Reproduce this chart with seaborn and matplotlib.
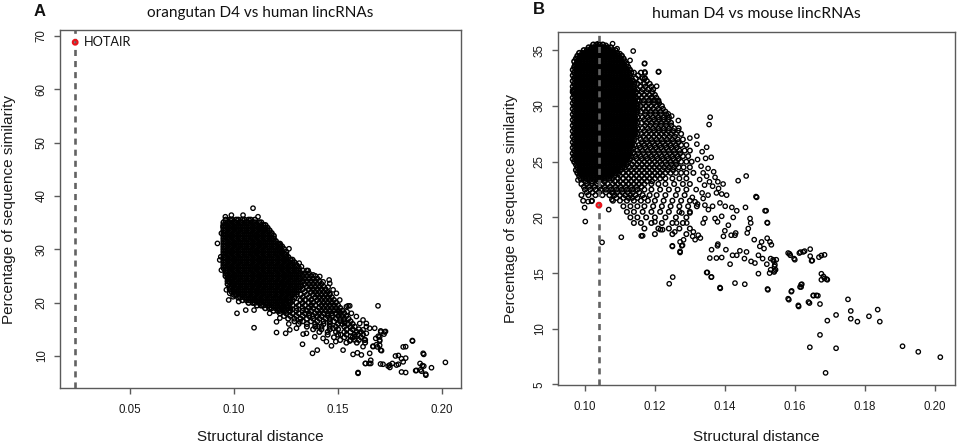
import matplotlib
matplotlib.use("Agg")
import matplotlib.pyplot as plt
import numpy as np
import pandas as pd
import seaborn as sns

# ---------------------------------------------------------------- data
# Panel A: orangutan D4 vs human lincRNAs
a_title = "orangutan D4 vs human lincRNAs"
a_hotair_x = [0.0236]
a_hotair_y = [68.8]
a_xticks = [0.05, 0.10, 0.15, 0.20]
a_xticklabels = ["0.05", "0.10", "0.15", "0.20"]
a_yticks = [10, 20, 30, 40, 50, 60, 70]
a_yticklabels = ["10", "20", "30", "40", "50", "60", "70"]

# dense core of panel A, read row by row (x in units of 0.001)
a_core_y = [35.5, 35.0, 34.5, 34.0, 33.5, 33.0, 32.5, 32.0, 31.5, 31.0, 30.5, 30.0,
            29.5, 29.0, 28.5, 28.0, 27.5, 27.0, 26.5, 26.0, 25.5, 25.0, 24.5, 24.0,
            23.5, 23.0, 22.5, 22.0, 21.5, 21.0, 20.5, 20.0, 19.5, 19.0, 18.5]
a_core_x = [
    [96, 98, 99, 101, 102, 104, 105, 107, 108, 110],
    [95, 97, 98, 100, 101, 103, 104, 106, 107, 109, 110, 112, 113],
    [95, 96, 98, 99, 101, 102, 104, 105, 107, 108, 110, 111, 113, 114, 115],
    [95, 97, 98, 100, 101, 103, 104, 106, 107, 109, 110, 112, 113, 115, 116],
    [95, 96, 98, 99, 101, 102, 104, 105, 107, 108, 110, 111, 113, 114, 116, 117],
    [95, 97, 98, 100, 101, 103, 104, 106, 107, 109, 110, 112, 113, 115, 116, 118],
    [95, 96, 98, 99, 101, 102, 104, 105, 107, 108, 110, 111, 113, 114, 116, 117, 119],
    [95, 97, 98, 100, 101, 103, 104, 106, 107, 109, 110, 112, 113, 115, 116, 118, 119],
    [95, 96, 98, 99, 101, 102, 104, 105, 107, 108, 110, 111, 113, 114, 116, 117, 119, 120],
    [95, 97, 98, 100, 101, 103, 104, 106, 107, 109, 110, 112, 113, 115, 116, 118, 119, 121, 122],
    [95, 96, 98, 99, 101, 102, 104, 105, 107, 108, 110, 111, 113, 114, 116, 117, 119, 120, 122, 123],
    [95, 97, 98, 100, 101, 103, 104, 106, 107, 109, 110, 112, 113, 115, 116, 118, 119, 121, 122, 124],
    [95, 96, 98, 99, 101, 102, 104, 105, 107, 108, 110, 111, 113, 114, 116, 117, 119, 120, 122, 123, 125],
    [95, 97, 98, 100, 101, 103, 104, 106, 107, 109, 110, 112, 113, 115, 116, 118, 119, 121, 122, 124, 125],
    [95, 96, 98, 99, 101, 102, 104, 105, 107, 108, 110, 111, 113, 114, 116, 117, 119, 120, 122, 123, 125, 126],
    [95, 97, 98, 100, 101, 103, 104, 106, 107, 109, 110, 112, 113, 115, 116, 118, 119, 121, 122, 124, 125, 127, 128],
    [95, 96, 98, 99, 101, 102, 104, 105, 107, 108, 110, 111, 113, 114, 116, 117, 119, 120, 122, 123, 125, 126, 128, 129],
    [95, 97, 98, 100, 101, 103, 104, 106, 107, 109, 110, 112, 113, 115, 116, 118, 119, 121, 122, 124, 125, 127, 128, 130],
    [95, 96, 98, 99, 101, 102, 104, 105, 107, 108, 110, 111, 113, 114, 116, 117, 119, 120, 122, 123, 125, 126, 128, 129, 131],
    [96, 97, 98, 100, 101, 103, 104, 106, 107, 109, 110, 112, 113, 115, 116, 118, 119, 121, 122, 124, 125, 127, 128, 130, 131],
    [96, 98, 99, 101, 102, 104, 105, 107, 108, 110, 111, 113, 114, 116, 117, 119, 120, 122, 123, 125, 126, 128, 129, 131, 132],
    [96, 97, 98, 100, 101, 103, 104, 106, 107, 109, 110, 112, 113, 115, 116, 118, 119, 121, 122, 124, 125, 127, 128, 130, 131, 133],
    [97, 98, 99, 101, 102, 104, 105, 107, 108, 110, 111, 113, 114, 116, 117, 119, 120, 122, 123, 125, 126, 128, 129, 131, 132],
    [97, 98, 100, 101, 103, 104, 106, 107, 109, 110, 112, 113, 115, 116, 118, 119, 121, 122, 124, 125, 127, 128, 130, 131, 133],
    [97, 99, 100, 102, 103, 105, 106, 108, 109, 111, 112, 114, 115, 117, 118, 120, 121, 123, 124, 126, 127, 129, 130, 132],
    [98, 99, 101, 102, 104, 105, 107, 108, 110, 111, 113, 114, 116, 117, 119, 120, 122, 123, 125, 126, 128, 129, 131, 132],
    [98, 100, 101, 103, 104, 106, 107, 109, 110, 112, 113, 115, 116, 118, 119, 121, 122, 124, 125, 127, 128, 130, 131],
    [99, 100, 102, 103, 105, 106, 108, 109, 111, 112, 114, 115, 117, 118, 120, 121, 123, 124, 126, 127, 129, 130],
    [100, 101, 103, 104, 106, 107, 109, 110, 112, 113, 115, 116, 118, 119, 121, 122, 124, 125, 127, 128, 130],
    [102, 103, 105, 106, 108, 109, 111, 112, 114, 115, 117, 118, 120, 121, 123, 124, 126, 127, 129],
    [104, 106, 107, 109, 110, 112, 113, 115, 116, 118, 119, 121, 122, 124, 125, 127, 128],
    [107, 109, 110, 112, 113, 115, 116, 118, 119, 121, 122, 124, 125, 127],
    [111, 113, 114, 116, 117, 119, 120, 122, 123, 125, 126],
    [115, 117, 118, 120, 121, 123, 124, 126],
    [119, 121, 122, 124, 125],
]

# thinner tail of panel A (x in units of 0.001)
a_tail_y = [26.0, 25.5, 25.0, 24.5, 24.0, 23.5, 23.0, 22.5, 22.0, 21.5, 21.0, 20.5, 20.0,
            19.5, 19.0, 18.5, 18.0, 17.5, 17.0, 16.5, 16.0, 15.5, 15.0, 14.5, 14.0, 13.5,
            13.0, 12.5]
a_tail_x = [
    [133, 135],
    [134, 136],
    [135, 137, 139],
    [134, 136, 138, 140],
    [135, 137, 139, 141],
    [134, 136, 138, 140, 142],
    [135, 137, 139, 141, 143],
    [133, 136, 138, 140, 142, 144],
    [134, 137, 139, 141, 143, 145],
    [132, 135, 138, 140, 142, 144, 146],
    [133, 136, 139, 141, 143, 145, 147],
    [132, 134, 137, 140, 142, 144, 146, 148],
    [130, 133, 136, 138, 141, 143, 145, 147, 149],
    [128, 131, 134, 137, 139, 142, 144, 146, 148, 150],
    [127, 130, 133, 136, 138, 141, 143, 145, 147, 149, 151],
    [127, 130, 133, 135, 137, 140, 142, 144, 146, 148, 150, 152],
    [122, 125, 128, 131, 134, 136, 139, 141, 143, 145, 147, 149, 151, 153],
    [124, 127, 130, 133, 136, 138, 140, 142, 145, 147, 150, 152, 154],
    [126, 129, 132, 135, 138, 141, 144, 146, 149, 151, 153, 155],
    [129, 133, 137, 140, 143, 146, 148, 151, 153, 156],
    [131, 135, 139, 143, 146, 150, 152, 155, 157],
    [135, 139, 142, 146, 149, 153, 156, 158],
    [138, 142, 146, 150, 154, 157, 160],
    [141, 145, 149, 153, 156, 159, 161],
    [145, 150, 154, 158, 162],
    [148, 153, 157, 161],
    [151, 156, 160, 163],
    [154, 159, 163],
]

# individually readable points of panel A
a_sparse_x = [0.2016, 0.1949, 0.1921, 0.1905, 0.1896, 0.1873, 0.1909, 0.1894, 0.1857, 0.1825,
              0.1825, 0.1825, 0.1790, 0.1790, 0.1761, 0.1748, 0.1716, 0.1692, 0.1705, 0.1684,
              0.1721, 0.1705, 0.1728, 0.1676, 0.1700, 0.1681, 0.1700, 0.1668, 0.1652, 0.1657,
              0.1631, 0.1596, 0.1612, 0.1593, 0.1572, 0.1524, 0.1580, 0.1620, 0.1596, 0.1620,
              0.1636, 0.1604, 0.1636, 0.1652, 0.1628, 0.1548, 0.1556, 0.1543, 0.1532, 0.1508,
              0.1513, 0.1489, 0.1468, 0.1444, 0.1457, 0.1452, 0.1460, 0.1377, 0.1400, 0.1388,
              0.1428, 0.1329, 0.1332, 0.1248, 0.1263, 0.1204, 0.1096, 0.1204, 0.1300, 0.1348,
              0.1316, 0.1268, 0.1404, 0.1476, 0.1014, 0.1056, 0.1096, 0.0974, 0.1022, 0.1171,
              0.1220, 0.1268, 0.1091, 0.0920, 0.0958, 0.0987, 0.1043, 0.1115, 0.1264, 0.1180,
              0.1147, 0.1220, 0.1313, 0.1324, 0.1356, 0.1380, 0.1412, 0.1428, 0.1460, 0.1476,
              0.1492, 0.1508, 0.1540, 0.1564, 0.1588, 0.1620, 0.1636, 0.0939, 0.0936, 0.0939,
              0.0947, 0.0963, 0.0979, 0.0995, 0.0931, 0.1858, 0.1912, 0.1912, 0.1901, 0.1877,
              0.1922, 0.1813, 0.1805, 0.1805, 0.1781, 0.1741, 0.1749, 0.1704, 0.1776, 0.1813,
              0.1709, 0.1700, 0.1724, 0.1705, 0.1693, 0.1700, 0.1689, 0.1668, 0.1657, 0.1632,
              0.1649, 0.1596, 0.1556, 0.1580, 0.1560]
a_sparse_y = [8.8, 7.8, 6.6, 8.2, 7.4, 7.25, 10.5, 8.6, 12.9, 9.6,
              11.75, 6.9, 10.1, 8.45, 8.6, 8.3, 8.45, 19.4, 11.1, 12.1,
              14.1, 14.7, 14.6, 15.2, 13.6, 13.3, 13.0, 11.75, 10.5, 8.6,
              8.6, 6.75, 10.2, 10.6, 10.3, 11.1, 13.0, 11.75, 14.0, 14.9,
              14.25, 16.1, 16.1, 15.2, 13.0, 19.4, 19.4, 18.3, 16.1, 18.3,
              14.0, 12.7, 11.9, 12.7, 24.25, 22.9, 21.75, 10.5, 11.1, 13.6,
              13.3, 12.2, 14.1, 14.25, 16.0, 14.4, 15.3, 16.4, 15.2, 14.25,
              16.4, 14.9, 15.5, 15.2, 18.0, 18.6, 18.6, 20.5, 20.2, 18.0,
              17.1, 18.3, 37.7, 31.1, 36.1, 36.4, 36.4, 36.1, 30.1, 32.7,
              33.6, 30.8, 27.4, 26.75, 26.0, 25.2, 24.9, 23.9, 23.6, 22.4,
              21.75, 20.5, 19.25, 18.0, 17.4, 16.75, 15.5, 26.1, 28.6, 33.0,
              34.25, 22.4, 21.75, 21.1, 28.0, 12.8, 10.3, 8.1, 7.15, 7.3,
              6.4, 8.9, 9.5, 7.0, 8.3, 8.1, 7.85, 8.5, 10.0, 11.7,
              11.0, 12.0, 14.5, 14.5, 13.7, 12.8, 11.7, 11.85, 9.2, 8.6,
              8.6, 6.9, 12.8, 13.6, 13.7]

# Panel B: human D4 vs mouse lincRNAs
b_title = "human D4 vs mouse lincRNAs"
b_hotair_x = [0.1040]
b_hotair_y = [21.1]
b_xticks = [0.10, 0.12, 0.14, 0.16, 0.18, 0.20]
b_xticklabels = ["0.10", "0.12", "0.14", "0.16", "0.18", "0.20"]
b_yticks = [5, 10, 15, 20, 25, 30, 35]
b_yticklabels = ["5", "10", "15", "20", "25", "30", "35"]

# dense core of panel B, read row by row (x in units of 0.0001)
b_core_y = [35.5, 35.25, 35.0, 34.75, 34.5, 34.25, 34.0, 33.75, 33.5, 33.25, 33.0, 32.75,
            32.5, 32.25, 32.0, 31.75, 31.5, 31.25, 31.0, 30.75, 30.5, 30.25, 30.0, 29.75,
            29.5, 29.25, 29.0, 28.75, 28.5, 28.25, 28.0, 27.75, 27.5, 27.25, 27.0, 26.75,
            26.5, 26.25, 26.0, 25.75, 25.5, 25.25, 25.0, 24.75, 24.5, 24.25, 24.0, 23.75,
            23.5, 23.25]
b_core_x = [
    [1024, 1033, 1042, 1051],
    [1011, 1020, 1029, 1038, 1047, 1056, 1065, 1074],
    [997, 1006, 1015, 1024, 1033, 1042, 1051, 1060, 1069, 1078, 1087],
    [984, 993, 1002, 1011, 1020, 1029, 1038, 1047, 1056, 1065, 1074, 1083, 1092],
    [979, 988, 997, 1006, 1015, 1024, 1033, 1042, 1051, 1060, 1069, 1078, 1087, 1096, 1105],
    [975, 984, 993, 1002, 1011, 1020, 1029, 1038, 1047, 1056, 1065, 1074, 1083, 1092, 1101, 1110],
    [970, 979, 988, 997, 1006, 1015, 1024, 1033, 1042, 1051, 1060, 1069, 1078, 1087, 1096, 1105, 1114],
    [975, 984, 993, 1002, 1011, 1020, 1029, 1038, 1047, 1056, 1065, 1074, 1083, 1092, 1101, 1110, 1119],
    [970, 979, 988, 997, 1006, 1015, 1024, 1033, 1042, 1051, 1060, 1069, 1078, 1087, 1096, 1105, 1114, 1123],
    [966, 975, 984, 993, 1002, 1011, 1020, 1029, 1038, 1047, 1056, 1065, 1074, 1083, 1092, 1101, 1110, 1119, 1128],
    [970, 979, 988, 997, 1006, 1015, 1024, 1033, 1042, 1051, 1060, 1069, 1078, 1087, 1096, 1105, 1114, 1123, 1132],
    [966, 975, 984, 993, 1002, 1011, 1020, 1029, 1038, 1047, 1056, 1065, 1074, 1083, 1092, 1101, 1110, 1119, 1128],
    [970, 979, 988, 997, 1006, 1015, 1024, 1033, 1042, 1051, 1060, 1069, 1078, 1087, 1096, 1105, 1114, 1123, 1132],
    [966, 975, 984, 993, 1002, 1011, 1020, 1029, 1038, 1047, 1056, 1065, 1074, 1083, 1092, 1101, 1110, 1119, 1128, 1137],
    [970, 979, 988, 997, 1006, 1015, 1024, 1033, 1042, 1051, 1060, 1069, 1078, 1087, 1096, 1105, 1114, 1123, 1132, 1141],
    [966, 975, 984, 993, 1002, 1011, 1020, 1029, 1038, 1047, 1056, 1065, 1074, 1083, 1092, 1101, 1110, 1119, 1128, 1137],
    [970, 979, 988, 997, 1006, 1015, 1024, 1033, 1042, 1051, 1060, 1069, 1078, 1087, 1096, 1105, 1114, 1123, 1132, 1141],
    [966, 975, 984, 993, 1002, 1011, 1020, 1029, 1038, 1047, 1056, 1065, 1074, 1083, 1092, 1101, 1110, 1119, 1128, 1137, 1146],
    [970, 979, 988, 997, 1006, 1015, 1024, 1033, 1042, 1051, 1060, 1069, 1078, 1087, 1096, 1105, 1114, 1123, 1132, 1141],
    [966, 975, 984, 993, 1002, 1011, 1020, 1029, 1038, 1047, 1056, 1065, 1074, 1083, 1092, 1101, 1110, 1119, 1128, 1137, 1146],
    [970, 979, 988, 997, 1006, 1015, 1024, 1033, 1042, 1051, 1060, 1069, 1078, 1087, 1096, 1105, 1114, 1123, 1132, 1141, 1150],
    [966, 975, 984, 993, 1002, 1011, 1020, 1029, 1038, 1047, 1056, 1065, 1074, 1083, 1092, 1101, 1110, 1119, 1128, 1137, 1146],
    [970, 979, 988, 997, 1006, 1015, 1024, 1033, 1042, 1051, 1060, 1069, 1078, 1087, 1096, 1105, 1114, 1123, 1132, 1141, 1150],
    [966, 975, 984, 993, 1002, 1011, 1020, 1029, 1038, 1047, 1056, 1065, 1074, 1083, 1092, 1101, 1110, 1119, 1128, 1137, 1146],
    [970, 979, 988, 997, 1006, 1015, 1024, 1033, 1042, 1051, 1060, 1069, 1078, 1087, 1096, 1105, 1114, 1123, 1132, 1141, 1150],
    [966, 975, 984, 993, 1002, 1011, 1020, 1029, 1038, 1047, 1056, 1065, 1074, 1083, 1092, 1101, 1110, 1119, 1128, 1137, 1146],
    [970, 979, 988, 997, 1006, 1015, 1024, 1033, 1042, 1051, 1060, 1069, 1078, 1087, 1096, 1105, 1114, 1123, 1132, 1141, 1150],
    [966, 975, 984, 993, 1002, 1011, 1020, 1029, 1038, 1047, 1056, 1065, 1074, 1083, 1092, 1101, 1110, 1119, 1128, 1137, 1146],
    [970, 979, 988, 997, 1006, 1015, 1024, 1033, 1042, 1051, 1060, 1069, 1078, 1087, 1096, 1105, 1114, 1123, 1132, 1141, 1150],
    [966, 975, 984, 993, 1002, 1011, 1020, 1029, 1038, 1047, 1056, 1065, 1074, 1083, 1092, 1101, 1110, 1119, 1128, 1137, 1146],
    [970, 979, 988, 997, 1006, 1015, 1024, 1033, 1042, 1051, 1060, 1069, 1078, 1087, 1096, 1105, 1114, 1123, 1132, 1141, 1150],
    [966, 975, 984, 993, 1002, 1011, 1020, 1029, 1038, 1047, 1056, 1065, 1074, 1083, 1092, 1101, 1110, 1119, 1128, 1137, 1146],
    [970, 979, 988, 997, 1006, 1015, 1024, 1033, 1042, 1051, 1060, 1069, 1078, 1087, 1096, 1105, 1114, 1123, 1132, 1141, 1150],
    [966, 975, 984, 993, 1002, 1011, 1020, 1029, 1038, 1047, 1056, 1065, 1074, 1083, 1092, 1101, 1110, 1119, 1128, 1137, 1146],
    [970, 979, 988, 997, 1006, 1015, 1024, 1033, 1042, 1051, 1060, 1069, 1078, 1087, 1096, 1105, 1114, 1123, 1132, 1141],
    [966, 975, 984, 993, 1002, 1011, 1020, 1029, 1038, 1047, 1056, 1065, 1074, 1083, 1092, 1101, 1110, 1119, 1128, 1137],
    [970, 979, 988, 997, 1006, 1015, 1024, 1033, 1042, 1051, 1060, 1069, 1078, 1087, 1096, 1105, 1114, 1123, 1132, 1141],
    [966, 975, 984, 993, 1002, 1011, 1020, 1029, 1038, 1047, 1056, 1065, 1074, 1083, 1092, 1101, 1110, 1119, 1128, 1137],
    [970, 979, 988, 997, 1006, 1015, 1024, 1033, 1042, 1051, 1060, 1069, 1078, 1087, 1096, 1105, 1114, 1123, 1132],
    [966, 975, 984, 993, 1002, 1011, 1020, 1029, 1038, 1047, 1056, 1065, 1074, 1083, 1092, 1101, 1110, 1119, 1128, 1137],
    [970, 979, 988, 997, 1006, 1015, 1024, 1033, 1042, 1051, 1060, 1069, 1078, 1087, 1096, 1105, 1114, 1123, 1132],
    [966, 975, 984, 993, 1002, 1011, 1020, 1029, 1038, 1047, 1056, 1065, 1074, 1083, 1092, 1101, 1110, 1119, 1128],
    [970, 979, 988, 997, 1006, 1015, 1024, 1033, 1042, 1051, 1060, 1069, 1078, 1087, 1096, 1105, 1114, 1123],
    [975, 984, 993, 1002, 1011, 1020, 1029, 1038, 1047, 1056, 1065, 1074, 1083, 1092, 1101, 1110, 1119],
    [979, 988, 997, 1006, 1015, 1024, 1033, 1042, 1051, 1060, 1069, 1078, 1087, 1096, 1105, 1114],
    [975, 984, 993, 1002, 1011, 1020, 1029, 1038, 1047, 1056, 1065, 1074, 1083, 1092, 1101],
    [979, 988, 997, 1006, 1015, 1024, 1033, 1042, 1051, 1060, 1069, 1078, 1087, 1096],
    [984, 993, 1002, 1011, 1020, 1029, 1038, 1047, 1056, 1065, 1074, 1083],
    [988, 997, 1006, 1015, 1024, 1033, 1042, 1051, 1060, 1069, 1078],
    [1002, 1020, 1038, 1056],
]

# looser band around the core of panel B (x in units of 0.0001)
b_band_y = [33.0, 32.5, 32.0, 31.5, 31.0, 30.5, 30.0, 29.5, 29.0, 28.5, 28.0, 27.5, 27.0,
            26.5, 26.0, 25.5, 25.0, 24.5, 24.0, 23.5, 23.0, 22.5, 22.0, 21.5, 21.0, 20.5,
            20.0, 19.5, 19.0, 18.5]
b_band_x = [
    [1140, 1160],
    [1145, 1165],
    [1150, 1170, 1185],
    [1150, 1165, 1180, 1195],
    [1155, 1170, 1185, 1200],
    [1155, 1168, 1182, 1196, 1210],
    [1160, 1175, 1190, 1205, 1220],
    [1160, 1174, 1188, 1202, 1216, 1230],
    [1165, 1180, 1195, 1210, 1225, 1240],
    [1162, 1176, 1190, 1204, 1218, 1232, 1246],
    [1165, 1180, 1195, 1210, 1225, 1240, 1255, 1268],
    [1162, 1176, 1190, 1204, 1218, 1232, 1246, 1260, 1275],
    [1160, 1175, 1190, 1205, 1220, 1235, 1250, 1265, 1280],
    [1155, 1170, 1185, 1200, 1215, 1230, 1245, 1260, 1275, 1290],
    [1150, 1165, 1180, 1195, 1210, 1225, 1240, 1255, 1270, 1285, 1300],
    [1145, 1160, 1175, 1190, 1205, 1220, 1235, 1250, 1265, 1280, 1295],
    [1140, 1155, 1170, 1185, 1200, 1215, 1230, 1245, 1260, 1275, 1290, 1305],
    [1128, 1142, 1156, 1170, 1184, 1198, 1212, 1226, 1240, 1254, 1268, 1282, 1300],
    [1110, 1125, 1140, 1155, 1170, 1185, 1200, 1215, 1230, 1245, 1260, 1275, 1290, 1310],
    [1095, 1110, 1125, 1140, 1155, 1170, 1185, 1200, 1215, 1230, 1250, 1270, 1290],
    [990, 1005, 1020, 1035, 1050, 1065, 1080, 1095, 1110, 1125, 1140, 1155, 1170, 1190, 1210, 1230, 1255, 1280, 1300],
    [1000, 1015, 1030, 1045, 1060, 1075, 1090, 1105, 1120, 1135, 1150, 1170, 1190, 1215, 1240, 1265, 1290],
    [990, 1010, 1030, 1050, 1070, 1085, 1100, 1115, 1130, 1145, 1165, 1185, 1205, 1230, 1260, 1285],
    [995, 1020, 1080, 1100, 1120, 1140, 1160, 1180, 1200, 1225, 1250, 1275, 1300],
    [1110, 1130, 1150, 1170, 1195, 1220, 1245, 1270, 1295, 1320],
    [1120, 1140, 1165, 1190, 1215, 1240, 1270, 1300],
    [1130, 1150, 1175, 1200, 1230, 1260, 1290],
    [1140, 1160, 1190, 1220, 1250, 1280],
    [1170, 1210, 1240, 1270, 1300],
    [1200, 1250, 1290],
]

# inner part of the band, between the rows above (x in units of 0.0001)
b_band2_y = [32.75, 32.25, 31.75, 31.25, 30.75, 30.25, 29.75, 29.25, 28.75, 28.25, 27.75,
             27.25, 26.75, 26.25, 25.75, 25.25, 24.75, 24.25, 23.75, 23.25, 22.75, 22.25,
             21.75]
b_band2_x = [
    [1152],
    [1157, 1177],
    [1158, 1173, 1190],
    [1162, 1177, 1193],
    [1162, 1176, 1190, 1204],
    [1167, 1182, 1197, 1212],
    [1167, 1181, 1195, 1209, 1223],
    [1172, 1187, 1202, 1217, 1232],
    [1169, 1183, 1197, 1211, 1225, 1239],
    [1172, 1187, 1202, 1217, 1232, 1247],
    [1169, 1183, 1197, 1211, 1225, 1239, 1253],
    [1167, 1182, 1197, 1212, 1227, 1242, 1257],
    [1162, 1177, 1192, 1207, 1222, 1237, 1252, 1267],
    [1157, 1172, 1187, 1202, 1217, 1232, 1247, 1262],
    [1152, 1167, 1182, 1197, 1212, 1227, 1242, 1257, 1272],
    [1147, 1162, 1177, 1192, 1207, 1222, 1237, 1252, 1267],
    [1135, 1149, 1163, 1177, 1191, 1205, 1219, 1233, 1247, 1261],
    [1117, 1132, 1147, 1162, 1177, 1192, 1207, 1222, 1237, 1252],
    [1100, 1117, 1132, 1147, 1162, 1177, 1192, 1207, 1222],
    [1085, 1100, 1117, 1132, 1147, 1162, 1177, 1192],
    [997, 1012, 1027, 1042, 1057, 1072, 1087, 1102, 1117, 1132, 1147, 1162],
    [1005, 1022, 1040, 1060, 1077, 1092, 1107, 1122, 1137, 1155],
    [1090, 1110, 1125, 1135, 1150, 1170],
]

# individually readable points of panel B
b_sparse_x = [0.1908, 0.1953, 0.2016, 0.1688, 0.1643, 0.1718, 0.1672, 0.1693, 0.1718, 0.1752,
              0.1760, 0.1760, 0.1779, 0.1812, 0.1837, 0.1843, 0.1583, 0.1590, 0.1611, 0.1618,
              0.1618, 0.1642, 0.1653, 0.1666, 0.1672, 0.1585, 0.1587, 0.1600, 0.1616, 0.1628,
              0.1644, 0.1644, 0.1650, 0.1669, 0.1676, 0.1685, 0.1676, 0.1682, 0.1685, 0.1691,
              0.1676, 0.1693, 0.1523, 0.1528, 0.1542, 0.1547, 0.1542, 0.1540, 0.1533, 0.1521,
              0.1521, 0.1515, 0.1489, 0.1461, 0.1438, 0.1387, 0.1457, 0.1350, 0.1361, 0.1241,
              0.1251, 0.1272, 0.1250, 0.1277, 0.1282, 0.1161, 0.1104, 0.1001, 0.1049, 0.1358,
              0.1355, 0.1320, 0.1320, 0.1300, 0.1138, 0.1171, 0.1211, 0.1205, 0.1171, 0.1171,
              0.0968, 0.0971, 0.0976, 0.0980, 0.0999, 0.1009, 0.1019, 0.1068, 0.1077, 0.1080,
              0.1129, 0.1170, 0.1210, 0.1172, 0.1172, 0.1191, 0.1200, 0.1210, 0.1238, 0.1248,
              0.1267, 0.1267, 0.1322, 0.1338, 0.1348, 0.1380, 0.1491, 0.1518, 0.1522, 0.1405,
              0.1391, 0.1365, 0.1459, 0.1434, 0.1420, 0.1401, 0.1424, 0.1472, 0.1474, 0.1467,
              0.1464, 0.1484, 0.1505, 0.1500, 0.1512, 0.1529, 0.1496, 0.1508, 0.1520, 0.1531,
              0.1538, 0.1543, 0.1545, 0.1541, 0.1531, 0.1486, 0.1475, 0.1496, 0.1443, 0.1462,
              0.1456, 0.1434, 0.1422, 0.1415, 0.1386, 0.1429, 0.1348, 0.1362, 0.1522, 0.1581,
              0.1598, 0.1624, 0.1613, 0.1648, 0.1620, 0.1615, 0.1591, 0.1581, 0.1610, 0.1639,
              0.1653, 0.1662, 0.1386, 0.1410, 0.1400, 0.1396, 0.1379, 0.1380, 0.1362, 0.1357,
              0.1376, 0.1391, 0.1403, 0.1429, 0.1431, 0.1418, 0.1308, 0.1315, 0.1330, 0.1338,
              0.1343, 0.1379, 0.1372, 0.1391, 0.1353, 0.1365, 0.1343, 0.1315, 0.1300, 0.1291,
              0.1277, 0.1262, 0.1257, 0.1272, 0.1279, 0.1272, 0.1216, 0.1222, 0.1200, 0.1165,
              0.1250, 0.1310, 0.1324, 0.1335, 0.1345, 0.1332, 0.1352, 0.1368, 0.1328, 0.1342,
              0.1356, 0.1372, 0.1318, 0.1335, 0.1352, 0.1307, 0.1322, 0.1338, 0.1382, 0.1395,
              0.1376, 0.1361, 0.1348, 0.1038, 0.1060, 0.1079, 0.1035, 0.1016, 0.1005, 0.0995,
              0.1092, 0.1100, 0.0965, 0.0969]
b_sparse_y = [8.43, 7.93, 7.45, 6.04, 8.34, 8.25, 9.45, 10.73, 11.24, 12.64,
              11.6, 10.9, 10.64, 11.12, 11.72, 10.64, 12.61, 13.33, 12.0, 13.75,
              13.96, 12.31, 12.97, 12.97, 12.22, 16.73, 16.6, 16.2, 16.88, 16.97,
              17.15, 16.52, 16.13, 16.43, 16.58, 16.64, 14.94, 14.7, 14.52, 14.46,
              14.4, 14.4, 13.5, 15.0, 15.2, 16.2, 15.6, 16.07, 17.54, 18.13,
              19.54, 20.6, 21.87, 23.72, 23.3, 13.63, 14.0, 15.06, 14.64, 14.04,
              14.64, 16.85, 17.39, 17.45, 17.99, 18.34, 18.22, 19.63, 17.76, 29.0,
              28.34, 26.58, 27.3, 27.12, 34.94, 33.84, 33.1, 31.78, 33.06, 32.49,
              31.3, 33.66, 25.33, 23.36, 20.88, 21.42, 21.45, 20.7, 21.6, 22.2,
              34.1, 33.8, 33.06, 32.97, 32.5, 30.8, 30.5, 30.4, 29.3, 29.1,
              28.7, 27.8, 25.2, 24.0, 23.7, 23.2, 21.8, 20.6, 19.5, 22.0,
              22.1, 22.8, 20.9, 20.6, 20.9, 21.0, 20.0, 19.9, 19.5, 19.0,
              18.6, 18.0, 17.8, 17.4, 17.2, 17.8, 16.6, 16.3, 15.8, 16.3,
              16.2, 15.75, 15.3, 15.1, 15.3, 15.9, 16.05, 14.95, 17.0, 16.9,
              16.3, 16.6, 16.6, 15.8, 13.7, 14.1, 15.05, 14.65, 13.57, 16.8,
              16.3, 16.9, 16.8, 16.1, 14.0, 13.75, 13.4, 12.7, 12.1, 12.4,
              13.0, 13.0, 21.3, 19.3, 18.8, 18.3, 17.45, 17.6, 17.1, 16.35,
              16.35, 16.4, 17.1, 18.4, 18.6, 18.4, 18.3, 18.0, 18.15, 19.5,
              19.9, 19.6, 19.9, 20.1, 20.7, 21.0, 21.1, 21.4, 20.4, 19.5,
              20.4, 19.5, 18.7, 17.8, 17.5, 16.95, 18.9, 18.9, 19.6, 18.35,
              17.45, 18.7, 18.4, 25.9, 25.3, 24.6, 24.4, 24.1, 23.4, 22.9,
              23.2, 23.6, 22.5, 22.2, 22.0, 21.8, 21.2, 21.7, 22.6, 23.0,
              22.2, 25.4, 26.3, 35.6, 35.45, 35.6, 35.3, 35.15, 34.85, 34.7,
              35.15, 34.7, 31.4, 30.5]


# ---------------------------------------------------------------- helpers
def rows_to_frame(rows_y, rows_x, unit):
    xs, ys = [], []
    for y, row in zip(rows_y, rows_x):
        xs.extend(v * unit for v in row)
        ys.extend([y] * len(row))
    return pd.DataFrame({"dist": xs, "sim": ys})


df_a_core = rows_to_frame(a_core_y, a_core_x, 0.001)
df_a_band = rows_to_frame(a_tail_y, a_tail_x, 0.001)
df_a_sparse = pd.DataFrame({"dist": a_sparse_x, "sim": a_sparse_y})
df_b_core = rows_to_frame(b_core_y, b_core_x, 0.0001)
df_b_band = pd.concat([rows_to_frame(b_band_y, b_band_x, 0.0001),
                       rows_to_frame(b_band2_y, b_band2_x, 0.0001)], ignore_index=True)
df_b_sparse = pd.DataFrame({"dist": b_sparse_x, "sim": b_sparse_y})

# ---------------------------------------------------------------- style
sns.set_theme(style="white")
plt.rcParams["font.family"] = ["Liberation Sans", "DejaVu Sans"]
TITLE_FONT = ["Lato", "DejaVu Sans"]
FRAME = "#5a5a5a"
W, H = 957, 445

fig = plt.figure(figsize=(W / 100, H / 100), dpi=100)
fig.patch.set_facecolor("white")

axA = fig.add_axes([60 / W, 1 - 388 / H, 401 / W, 358 / H])
axB = fig.add_axes([558 / W, 1 - 385 / H, 397 / W, 353 / H])

PT_KW = dict(marker="o", s=10, facecolor="none", edgecolor="black", linewidth=0.95,
             legend=False, zorder=2)
BAND_KW = dict(marker="o", s=11, facecolor="none", edgecolor="black", linewidth=1.05,
               legend=False, zorder=2)
CORE_KW = dict(marker="o", s=13, facecolor="none", edgecolor="black", linewidth=1.15,
               legend=False, zorder=2)
RED_KW = dict(marker="o", s=11, facecolor="none", edgecolor="#e8141b", linewidth=1.6,
              legend=False, zorder=4)
DASH_KW = dict(color="#626262", linewidth=1.9, linestyle=(0, (2.3, 1.9)), zorder=3)


def style_axes(ax, xlim, ylim, xticks, xticklabels, yticks, yticklabels,
               title, title_y_px, top_px, bottom_px, left_px, xlabel_y_px, ylabel_x_px,
               title_size):
    ax.set_xlim(*xlim)
    ax.set_ylim(*ylim)
    ax.set_facecolor("white")
    for sp in ax.spines.values():
        sp.set_visible(True)
        sp.set_color(FRAME)
        sp.set_linewidth(1.0)
    ax.set_xticks(xticks)
    ax.set_xticklabels(xticklabels)
    ax.set_yticks(yticks)
    ax.set_yticklabels(yticklabels, rotation=90, va="center")
    ax.tick_params(axis="both", which="major", direction="out", length=4.3, width=1.0,
                   color=FRAME, labelsize=8.3, labelcolor="#1a1a1a",
                   bottom=True, left=True, top=False, right=False)
    ax.tick_params(axis="x", pad=7.0)
    ax.tick_params(axis="y", pad=4.5)
    ax.grid(False)
    height_px = bottom_px - top_px
    ax.set_xlabel("Structural distance", fontsize=11, color="#1a1a1a", va="center")
    ax.xaxis.set_label_coords(0.5, -(xlabel_y_px - bottom_px) / height_px)
    ax.set_ylabel("Percentage of sequence similarity", fontsize=11, color="#1a1a1a",
                  va="center")
    width_px = ax.get_position().width * W
    ax.yaxis.set_label_coords((ylabel_x_px - left_px) / width_px, 0.5)
    ax.text(0.5, 1 + (top_px - title_y_px) / height_px, title, transform=ax.transAxes,
            ha="center", va="center", fontsize=title_size, family=TITLE_FONT,
            color="#111111")


# ---------------------------------------------------------------- panel A
sns.scatterplot(data=df_a_core, x="dist", y="sim", ax=axA, **CORE_KW)
sns.scatterplot(data=df_a_band, x="dist", y="sim", ax=axA, **BAND_KW)
sns.scatterplot(data=df_a_sparse, x="dist", y="sim", ax=axA, **PT_KW)
axA.axvline(a_hotair_x[0], **DASH_KW)
sns.scatterplot(x=a_hotair_x, y=a_hotair_y, ax=axA, **RED_KW)
axA.annotate("HOTAIR", xy=(a_hotair_x[0], a_hotair_y[0]), xytext=(6, 0),
             textcoords="offset points", ha="left", va="center", fontsize=9.2,
             family=TITLE_FONT, color="#111111", zorder=5)
style_axes(axA, (0.0163, 0.2091), (4.0, 71.1), a_xticks, a_xticklabels, a_yticks,
           a_yticklabels, a_title, 13, 30, 388, 60, 437, 9.5, 11.0)

# ---------------------------------------------------------------- panel B
sns.scatterplot(data=df_b_core, x="dist", y="sim", ax=axB, **CORE_KW)
sns.scatterplot(data=df_b_band, x="dist", y="sim", ax=axB, **BAND_KW)
sns.scatterplot(data=df_b_sparse, x="dist", y="sim", ax=axB, **PT_KW)
axB.axvline(b_hotair_x[0], **DASH_KW)
sns.scatterplot(x=b_hotair_x, y=b_hotair_y, ax=axB, **RED_KW)
style_axes(axB, (0.0923, 0.2058), (4.95, 36.65), b_xticks, b_xticklabels, b_yticks,
           b_yticklabels, b_title, 14, 32, 385, 558, 437, 511, 11.3)

# panel letters
fig.text(34 / W, 1 - 12 / H, "A", fontsize=12, fontweight="bold", ha="left", va="center",
         color="#111111")
fig.text(533 / W, 1 - 10 / H, "B", fontsize=12, fontweight="bold", ha="left", va="center",
         color="#111111")

fig.savefig("out.png", dpi=100, facecolor="white")
